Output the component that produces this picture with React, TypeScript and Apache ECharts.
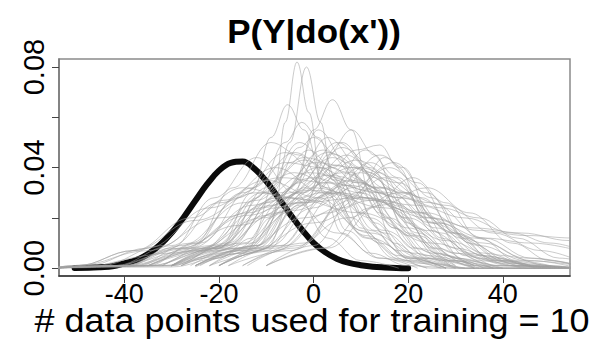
import React, { useEffect, useRef } from "react";
import * as echarts from "echarts";

const titleText = "P(Y|do(x'))";
const xLabelText = "# data points used for training = 10";
const xTicks = [-40, -20, 0, 20, 40];
const yTicks = [0, 0.02, 0.04, 0.06, 0.08];
const yTickLabels = [0, 0.04, 0.08];

const blackX = [-50.5, -47.5, -45, -42.5, -40, -37.5, -35, -32.5, -30, -27.5, -25, -22.5, -20, -17.5, -15, -12.5, -10, -7.5, -5, -2.5, 0, 2.5, 5, 7.5, 10, 12.5, 15, 17.5, 20];
const blackY = [0.0001, 0.00015, 0.0004, 0.0008, 0.0019, 0.0032, 0.0056, 0.0092, 0.0141, 0.0201, 0.0268, 0.0334, 0.0388, 0.0419, 0.0424, 0.0396, 0.0346, 0.0282, 0.0216, 0.0154, 0.0101, 0.0063, 0.0037, 0.0021, 0.0012, 0.0006, 0.0003, 0.0001, 0];

const grayCurves: number[][][] = [
  [[-56, 0], [-30, 0.0005], [-20, 0.004], [-13, 0.012], [-8, 0.035], [-6, 0.058], [-3.5, 0.082], [-1, 0.062], [2, 0.03], [6, 0.014], [12, 0.006], [20, 0.001], [28, 0]],
  [[-25, 0.0005], [-15, 0.006], [-9, 0.02], [-5, 0.05], [-1.5, 0.08], [1.5, 0.058], [4, 0.035], [8, 0.02], [14, 0.01], [22, 0.002], [30, 0], [56, 0]],
  [[-20, 0.001], [-10, 0.008], [-4, 0.03], [0, 0.055], [4, 0.067], [8, 0.055], [12, 0.03], [17, 0.01], [24, 0.002], [32, 0]],
  [[-56, 0], [-30, 0.001], [-20, 0.008], [-13, 0.03], [-9, 0.052], [-5.5, 0.065], [-2, 0.055], [2, 0.035], [7, 0.015], [14, 0.004], [22, 0]],
  [[-30, 0.001], [-20, 0.008], [-12, 0.028], [-6, 0.05], [-2.5, 0.058], [1, 0.052], [5, 0.035], [10, 0.016], [17, 0.004], [25, 0], [56, 0]],
  [[-20, 0.001], [-10, 0.007], [-2, 0.025], [3, 0.045], [8, 0.055], [13, 0.045], [18, 0.025], [25, 0.008], [33, 0.001], [40, 0]],
  [[-56, 0], [-35, 0.001], [-25, 0.01], [-17, 0.032], [-9, 0.05], [-3, 0.045], [3, 0.03], [10, 0.015], [18, 0.005], [28, 0]],
  [[-25, 0.001], [-12, 0.008], [-3, 0.025], [4, 0.04], [9, 0.047], [14, 0.049], [18, 0.04], [23, 0.022], [30, 0.006], [38, 0.001], [56, 0]],
  [[-30, 0.001], [-18, 0.01], [-9, 0.03], [-3, 0.048], [0, 0.052], [5, 0.045], [10, 0.03], [15, 0.02], [22, 0.008], [30, 0.001]],
  [[-56, 0], [-40, 0.001], [-30, 0.008], [-21, 0.028], [-12, 0.044], [-4, 0.03], [3, 0.012], [10, 0.003], [18, 0]],
  [[-56, 0], [-38, 0.001], [-26, 0.008], [-16, 0.028], [-6, 0.046], [3, 0.032], [11, 0.012], [19, 0.003], [27, 0]],
  [[-35, 0.001], [-24, 0.007], [-12, 0.027], [-2, 0.043], [7, 0.033], [15, 0.014], [23, 0.004], [32, 0], [56, 0]],
  [[-30, 0.001], [-18, 0.008], [-8, 0.028], [2, 0.047], [10, 0.035], [17, 0.016], [25, 0.004], [34, 0]],
  [[-56, 0], [-32, 0.001], [-20, 0.007], [-8, 0.024], [5, 0.041], [14, 0.03], [22, 0.014], [30, 0.004], [40, 0.001], [56, 0]],
  [[-25, 0.001], [-13, 0.008], [-3, 0.028], [7, 0.045], [15, 0.032], [22, 0.013], [30, 0.003], [38, 0]],
  [[-25, 0.001], [-12, 0.007], [0, 0.024], [10, 0.038], [19, 0.03], [27, 0.014], [35, 0.004], [45, 0.001], [56, 0]],
  [[-20, 0.001], [-8, 0.008], [3, 0.028], [12, 0.042], [20, 0.03], [27, 0.012], [35, 0.003], [44, 0]],
  [[-56, 0], [-40, 0.001], [-28, 0.009], [-15, 0.026], [-4, 0.038], [6, 0.03], [15, 0.015], [24, 0.005], [34, 0.001]],
  [[-56, 0], [-40, 0.001], [-28, 0.008], [-14, 0.022], [0, 0.036], [10, 0.03], [20, 0.016], [30, 0.006], [42, 0.001], [56, 0]],
  [[-35, 0.001], [-22, 0.007], [-10, 0.021], [3, 0.034], [14, 0.03], [25, 0.018], [35, 0.009], [45, 0.003], [56, 0.001]],
  [[-15, 0.001], [-4, 0.008], [6, 0.024], [15, 0.036], [23, 0.028], [31, 0.012], [40, 0.003], [50, 0], [56, 0]],
  [[-10, 0.001], [2, 0.008], [12, 0.024], [21, 0.036], [28, 0.026], [35, 0.012], [43, 0.003], [52, 0]],
  [[-56, 0], [-42, 0.001], [-30, 0.009], [-19, 0.027], [-8, 0.04], [2, 0.03], [11, 0.013], [20, 0.003], [30, 0]],
  [[-56, 0], [-50, 0.001], [-38, 0.007], [-26, 0.02], [-15, 0.032], [-5, 0.028], [5, 0.014], [14, 0.004], [24, 0]],
  [[-56, 0], [-48, 0.001], [-35, 0.008], [-22, 0.024], [-10, 0.035], [1, 0.028], [12, 0.012], [22, 0.003], [32, 0], [56, 0]],
  [[-22, 0.001], [-11, 0.008], [-2, 0.03], [6, 0.05], [13, 0.036], [20, 0.014], [27, 0.003], [35, 0]],
  [[-28, 0.001], [-15, 0.007], [-3, 0.026], [9, 0.043], [17, 0.036], [25, 0.018], [33, 0.006], [42, 0.001], [56, 0]],
  [[-35, 0.001], [-22, 0.008], [-10, 0.026], [1, 0.04], [11, 0.031], [20, 0.013], [29, 0.003], [38, 0]],
  [[-56, 0], [-30, 0.001], [-19, 0.009], [-10, 0.032], [-3, 0.05], [5, 0.036], [12, 0.015], [20, 0.004], [28, 0]],
  [[-28, 0.001], [-16, 0.008], [-6, 0.028], [4, 0.044], [13, 0.032], [21, 0.013], [29, 0.003], [38, 0], [56, 0]],
  [[-56, 0], [-35, 0.001], [-20, 0.008], [-8, 0.022], [5, 0.03], [15, 0.027], [25, 0.02], [35, 0.015], [45, 0.013], [55, 0.012], [65, 0.008]],
  [[-38, 0.001], [-24, 0.008], [-11, 0.024], [0, 0.032], [12, 0.027], [24, 0.02], [34, 0.016], [44, 0.014], [54, 0.011], [62, 0.007]],
  [[-30, 0.001], [-15, 0.007], [-2, 0.02], [10, 0.028], [22, 0.025], [32, 0.02], [42, 0.014], [50, 0.01], [58, 0.006]],
  [[-25, 0.001], [-12, 0.009], [-2, 0.026], [8, 0.035], [18, 0.028], [27, 0.024], [35, 0.02], [43, 0.012], [52, 0.004], [60, 0.001]],
  [[-18, 0.001], [-5, 0.007], [7, 0.02], [18, 0.03], [28, 0.025], [38, 0.014], [48, 0.007], [56, 0.003]],
  [[-30, 0.001], [-15, 0.01], [-3, 0.03], [6, 0.038], [16, 0.03], [26, 0.018], [36, 0.012], [46, 0.01], [56, 0.007]],
  [[-56, 0], [-50, 0.001], [-35, 0.007], [-20, 0.02], [-5, 0.028], [10, 0.022], [25, 0.01], [38, 0.003], [50, 0], [56, 0]],
  [[-30, 0.001], [-14, 0.006], [0, 0.018], [12, 0.027], [24, 0.022], [36, 0.01], [46, 0.003], [56, 0]],
  [[-56, 0], [-40, 0.001], [-25, 0.007], [-11, 0.02], [2, 0.03], [15, 0.024], [28, 0.011], [40, 0.003], [52, 0]],
  [[-32, 0.001], [-20, 0.008], [-10, 0.03], [-5, 0.042], [-1, 0.047], [4, 0.04], [9, 0.034], [14, 0.022], [21, 0.008], [29, 0.001]],
  [[-25, 0.001], [-14, 0.008], [-5, 0.03], [3, 0.052], [10, 0.04], [17, 0.016], [24, 0.004], [32, 0], [56, 0]],
  [[-18, 0.001], [-7, 0.009], [3, 0.03], [11, 0.047], [18, 0.036], [25, 0.015], [32, 0.003], [40, 0]],
  [[-56, 0], [-45, 0.001], [-32, 0.009], [-20, 0.026], [-7, 0.036], [3, 0.034], [12, 0.02], [21, 0.006], [30, 0.001]],
  [[-14, 0.001], [-3, 0.009], [7, 0.028], [16, 0.04], [24, 0.03], [32, 0.012], [40, 0.003], [48, 0], [56, 0]],
  [[-56, 0], [-42, 0.001], [-28, 0.008], [-14, 0.021], [-1, 0.031], [12, 0.028], [24, 0.015], [35, 0.005], [46, 0.001]],
  [[-30, 0.001], [-16, 0.008], [-4, 0.023], [7, 0.033], [19, 0.028], [30, 0.014], [40, 0.005], [50, 0.001], [56, 0]],
  [[-22, 0.001], [-8, 0.007], [3, 0.022], [13, 0.032], [25, 0.026], [36, 0.012], [46, 0.004], [56, 0.001]],
  [[-56, 0], [-50, 0.001], [-38, 0.007], [-25, 0.019], [-12, 0.03], [0, 0.027], [12, 0.014], [23, 0.004], [34, 0]],
  [[-22, 0.001], [-12, 0.009], [-5, 0.032], [1, 0.055], [7, 0.042], [13, 0.018], [20, 0.004], [28, 0]],
  [[-10, 0.001], [0, 0.009], [9, 0.03], [15, 0.044], [19, 0.04], [25, 0.02], [32, 0.005], [40, 0], [56, 0]],
  [[-30, 0.001], [-18, 0.009], [-7, 0.03], [3, 0.046], [12, 0.038], [20, 0.018], [28, 0.005], [36, 0]],
  [[-56, 0], [-36, 0.001], [-24, 0.01], [-13, 0.032], [-4, 0.046], [5, 0.035], [13, 0.015], [21, 0.004], [30, 0]],
  [[-20, 0.001], [-6, 0.009], [5, 0.03], [14, 0.045], [22, 0.034], [30, 0.014], [38, 0.003], [46, 0], [56, 0]],
  [[-26, 0.001], [-13, 0.01], [-3, 0.034], [5, 0.05], [12, 0.04], [19, 0.02], [26, 0.006], [34, 0]],
  [[-40, 0.001], [-26, 0.008], [-13, 0.025], [-1, 0.038], [10, 0.034], [20, 0.02], [30, 0.008], [40, 0.002], [56, 0]],
  [[-15, 0.001], [-2, 0.01], [8, 0.032], [17, 0.042], [25, 0.028], [33, 0.01], [42, 0.002], [50, 0]],
  [[-56, 0], [-34, 0.001], [-22, 0.009], [-11, 0.03], [-2, 0.044], [8, 0.038], [16, 0.02], [25, 0.006], [34, 0.001]],
  [[-28, 0.001], [-15, 0.008], [-4, 0.026], [8, 0.04], [18, 0.034], [27, 0.018], [36, 0.006], [46, 0.001], [56, 0]],
  [[-45, 0.001], [-30, 0.006], [-16, 0.017], [-3, 0.026], [10, 0.028], [22, 0.022], [34, 0.012], [45, 0.004], [56, 0.001]],
  [[-24, 0.001], [-12, 0.009], [-2, 0.032], [6, 0.048], [14, 0.038], [22, 0.016], [30, 0.004], [38, 0]],
  [[-10, 0.001], [3, 0.008], [14, 0.025], [24, 0.032], [33, 0.022], [42, 0.01], [50, 0.003], [58, 0]],
  [[-56, 0], [-38, 0.001], [-26, 0.01], [-15, 0.03], [-6, 0.042], [2, 0.04], [10, 0.022], [18, 0.007], [26, 0.001]],
  [[-32, 0.001], [-20, 0.009], [-8, 0.028], [0, 0.042], [9, 0.04], [17, 0.024], [26, 0.008], [35, 0.001], [56, 0]],
  [[-20, 0.001], [-9, 0.009], [1, 0.028], [10, 0.04], [20, 0.03], [29, 0.014], [38, 0.004], [47, 0]],
  [[-36, 0.001], [-22, 0.008], [-9, 0.025], [3, 0.037], [15, 0.032], [26, 0.016], [36, 0.005], [46, 0.001], [56, 0]],
];

const FONT = "'Liberation Sans', Arial, Helvetica, sans-serif";

export default function App() {
  const ref = useRef<HTMLDivElement>(null);
  useEffect(() => {
    if (!ref.current) return;
    const chart = echarts.init(ref.current, null, { renderer: "svg" });
    const blackData = blackX.map((x, i) => [x, blackY[i]]);
    const series: any[] = [
      {
        type: "line",
        data: blackData,
        symbol: "none",
        smooth: 0.4,
        lineStyle: { color: "#0a0a0a", width: 6, cap: "round", join: "round" },
        silent: true,
      },
      ...grayCurves.map((c) => ({
        type: "line",
        data: c,
        symbol: "none",
        smooth: 0.4,
        smoothMonotone: "x",
        lineStyle: { color: "rgba(160,160,160,0.55)", width: 1 },
        silent: true,
      })),
    ];
    chart.setOption({
      animation: false,
      backgroundColor: "#ffffff",
      textStyle: { fontFamily: FONT },
      grid: {
        left: 59,
        top: 59,
        width: 511,
        height: 217,
        show: true,
        borderColor: "#8a8a8a",
        borderWidth: 1.5,
      },
      xAxis: {
        type: "value",
        min: -53.8,
        max: 54.2,
        splitLine: { show: false },
        axisLine: { show: true, onZero: false, lineStyle: { color: "#333", width: 1.5 } },
        axisTick: {
          show: true,
          length: 7,
          customValues: xTicks,
          lineStyle: { color: "#444", width: 1 },
        },
        axisLabel: {
          customValues: xTicks,
          fontSize: 27,
          lineHeight: 22,
          color: "#000",
          fontFamily: FONT,
          margin: 7,
        },
      },
      yAxis: {
        type: "value",
        min: -0.0031,
        max: 0.0832,
        splitLine: { show: false },
        axisLine: { show: true, onZero: false, lineStyle: { color: "#777", width: 1.5 } },
        axisTick: {
          show: true,
          length: 7,
          customValues: yTicks,
          lineStyle: { color: "#444", width: 1 },
        },
        axisLabel: {
          customValues: yTickLabels,
          rotate: 90,
          fontSize: 29,
          color: "#000",
          fontFamily: FONT,
          margin: 11,
          formatter: (v: number) => v.toFixed(2),
        },
      },
      graphic: [
        {
          type: "text",
          x: 314,
          y: 31.5,
          scaleY: 0.93,
          style: {
            text: titleText,
            font: `bold 35px ${FONT}`,
            fill: "#000",
            align: "center",
            verticalAlign: "middle",
          },
        },
        {
          type: "text",
          x: 312,
          y: 320,
          scaleY: 0.93,
          style: {
            text: xLabelText,
            font: `36px ${FONT}`,
            lineHeight: 30,
            fill: "#000",
            align: "center",
            verticalAlign: "middle",
          },
        },
      ],
      series,
    });
    return () => chart.dispose();
  }, []);
  return (
    <div
      ref={ref}
      style={{ position: "absolute", left: 0, top: 0, width: 600, height: 350 }}
    />
  );
}
